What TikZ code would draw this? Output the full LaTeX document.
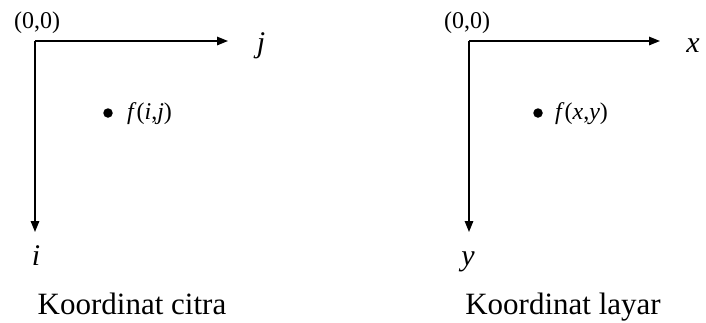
\documentclass[tikz,border=0pt]{standalone}
\usepackage{fontspec}
\setmainfont{Liberation Serif}
\usetikzlibrary{arrows.meta}
\tikzset{
  axis/.style={line width=1.5pt,-{Triangle[length=11pt,width=8.5pt]}},
  axlabel/.style={anchor=base,inner sep=0pt,font=\fontsize{30}{32}\selectfont\itshape},
  origin/.style={anchor=base,inner sep=0pt,font=\fontsize{24}{26}\selectfont},
  caption/.style={anchor=base,inner sep=0pt,font=\fontsize{31}{34}\selectfont},
  flabel/.style={anchor=base west,inner sep=0pt,font=\fontsize{24}{26}\selectfont},
  pt/.style={circle,fill=black,inner sep=0pt,minimum size=9.5pt}
}
\begin{document}
\begin{tikzpicture}[x=1pt,y=-1pt]
\useasboundingbox (0,0) rectangle (706,322);
% left
\coordinate (o1) at (35,41);
\coordinate (e1) at (228,41);
\coordinate (s1) at (35,232);
\draw[axis] (o1) -- (e1);
\draw[axis] (o1) -- (s1);
\node[origin] (z1) at (37,28) {(0,0)};
\node[axlabel] (j) at (261,52) {j};
\node[axlabel] (i) at (36,265) {i};
\node[pt] (p1) at (108,113) {};
\node[flabel] (f1) at (127,119) {\textit{f}(\textit{i},\textit{j})};
\node[caption] (c1) at (132,314) {Koordinat citra};
% right
\coordinate (o2) at (469,41);
\coordinate (e2) at (660,41);
\coordinate (s2) at (469,232);
\draw[axis] (o2) -- (e2);
\draw[axis] (o2) -- (s2);
\node[origin] (z2) at (467,28) {(0,0)};
\node[axlabel] (x) at (693,52) {x};
\node[axlabel] (y) at (468,265) {y};
\node[pt] (p2) at (538,113) {};
\node[flabel] (f2) at (555,119) {\textit{f}(\textit{x},\textit{y})};
\node[caption] (c2) at (563,314) {Koordinat layar};
\end{tikzpicture}
\end{document}
